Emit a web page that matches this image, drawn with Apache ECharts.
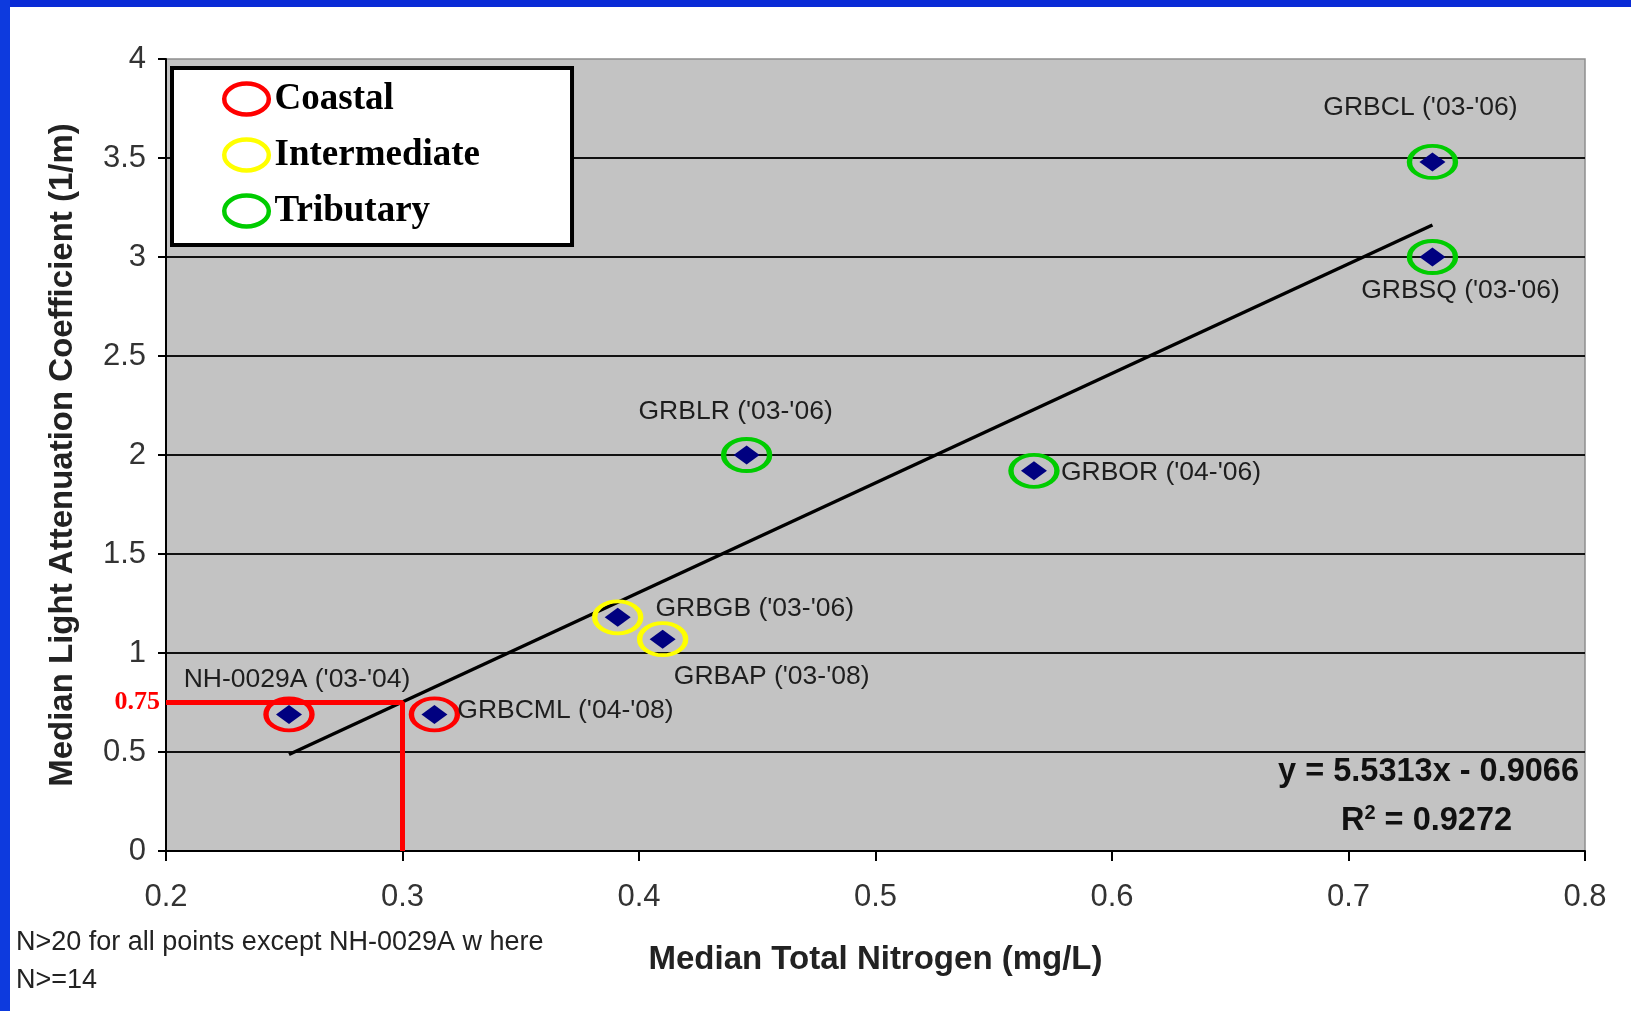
<!DOCTYPE html>
<html>
<head>
<meta charset="utf-8">
<title>Median Light Attenuation vs Median Total Nitrogen</title>
<script src="https://cdn.jsdelivr.net/npm/echarts@6/dist/echarts.min.js"></script>
<style>
  html, body { margin: 0; padding: 0; background: #ffffff; }
  #chart { width: 1631px; height: 1011px; }
</style>
</head>
<body>
<div id="chart"></div>
<script>
// Station names with sampling years
const sites = [
  "NH-0029A ('03-'04)",
  "GRBCML ('04-'08)",
  "GRBGB ('03-'06)",
  "GRBAP ('03-'08)",
  "GRBLR ('03-'06)",
  "GRBOR ('04-'06)",
  "GRBCL ('03-'06)",
  "GRBSQ ('03-'06)"
];
// Median total nitrogen (mg/L)
const nitrogen = [0.252, 0.3135, 0.391, 0.41, 0.4455, 0.567, 0.7355, 0.7355];
// Median light attenuation coefficient (1/m)
const attenuation = [0.69, 0.69, 1.18, 1.07, 2.0, 1.92, 3.48, 3.0];
// Station type
const stationType = ['Coastal', 'Coastal', 'Intermediate', 'Intermediate',
                     'Tributary', 'Tributary', 'Tributary', 'Tributary'];
const typeNames = ['Coastal', 'Intermediate', 'Tributary'];

// Linear fit
const slope = 5.5313;
const intercept = -0.9066;
const rSquared = 0.9272;

// Guide at the 0.75 attenuation target
const targetAttenuation = 0.75;
const targetNitrogen = 0.3;

// Axis ticks
const xTicks = [0.2, 0.3, 0.4, 0.5, 0.6, 0.7, 0.8];
const yTicks = [0, 0.5, 1, 1.5, 2, 2.5, 3, 3.5, 4];

const noteLines = ['N>20 for all points except NH-0029A w here', 'N>=14'];

// ---- styling ----
const typeColors = { Coastal: '#ff0000', Intermediate: '#ffff00', Tributary: '#00cc00' };
const ellipse = 'path://M0,16A23,16,0,1,1,46,16A23,16,0,1,1,0,16Z';
const labelOffsets = {
  "NH-0029A ('03-'04)": [8, -35],
  "GRBCML ('04-'08)": [131, -4],
  "GRBGB ('03-'06)": [137, -9],
  "GRBAP ('03-'08)": [109, 38],
  "GRBLR ('03-'06)": [-11, -43],
  "GRBOR ('04-'06)": [127, 2],
  "GRBCL ('03-'06)": [-12, -54],
  "GRBSQ ('03-'06)": [28, 34]
};
const SANS = "'Liberation Sans', Arial, sans-serif";
const SERIF = "'Liberation Serif', 'Times New Roman', serif";

const chart = echarts.init(document.getElementById('chart'), null, { renderer: 'canvas' });

const ringSeries = typeNames.map(t => ({
  name: t,
  type: 'scatter',
  symbol: ellipse,
  symbolSize: [46, 32],
  itemStyle: { color: 'transparent', borderColor: typeColors[t], borderWidth: 4.5, opacity: 1 },
  emphasis: { disabled: true },
  z: 3,
  data: nitrogen.map((x, i) => stationType[i] === t ? [x, attenuation[i]] : null).filter(d => d)
}));

const xMin = Math.min(...nitrogen);
const xMax = Math.max(...nitrogen);

const option = {
  animation: false,
  backgroundColor: '#ffffff',
  grid: {
    left: 166, right: 46, top: 59, bottom: 160,
    show: true, backgroundColor: '#c3c3c3', borderColor: '#8e8e8e', borderWidth: 1.5
  },
  legend: {
    orient: 'vertical',
    left: 172, top: 68,
    backgroundColor: '#ffffff', borderColor: '#000000', borderWidth: 4,
    padding: [11, 92, 14, 50],
    itemWidth: 46, itemHeight: 31, itemGap: 16,
    selectedMode: false,
    textStyle: { fontFamily: SERIF, fontWeight: 'bold', fontSize: 37, color: '#000', lineHeight: 40 },
    data: typeNames.map(t => ({
      name: t, icon: ellipse,
      itemStyle: { color: 'transparent', borderColor: typeColors[t], borderWidth: 4.5 }
    }))
  },
  xAxis: {
    type: 'value',
    min: xTicks[0], max: xTicks[xTicks.length - 1], interval: 0.1,
    name: 'Median Total Nitrogen (mg/L)',
    nameLocation: 'middle', nameGap: 92,
    nameTextStyle: { fontFamily: SANS, fontWeight: 'bold', fontSize: 33, color: '#222' },
    axisLine: { show: true, lineStyle: { color: '#000', width: 2 } },
    axisTick: { show: true, length: 10, lineStyle: { color: '#000', width: 2 } },
    axisLabel: {
      margin: 31, fontFamily: SANS, fontSize: 31, color: '#333',
      formatter: v => xTicks.find(t => Math.abs(t - v) < 1e-9).toFixed(1)
    },
    splitLine: { show: false }
  },
  yAxis: {
    type: 'value',
    min: yTicks[0], max: yTicks[yTicks.length - 1], interval: 0.5,
    name: 'Median Light Attenuation Coefficient (1/m)',
    nameLocation: 'middle', nameGap: 87,
    nameTextStyle: { fontFamily: SANS, fontWeight: 'bold', fontSize: 33, color: '#222' },
    axisLine: { show: true, lineStyle: { color: '#000', width: 2 } },
    axisTick: { show: true, length: 8, lineStyle: { color: '#000', width: 2 } },
    axisLabel: { margin: 20, fontFamily: SANS, fontSize: 31, color: '#333',
      formatter: v => String(yTicks.find(t => Math.abs(t - v) < 1e-9)) },
    splitLine: { show: true, showMaxLine: false, lineStyle: { color: '#111', width: 2 } }
  },
  graphic: [
    { type: 'rect', shape: { x: 0, y: 0, width: 1631, height: 7 }, style: { fill: '#0a2bd6' }, z: 100 },
    { type: 'rect', shape: { x: 0, y: 0, width: 10, height: 1011 }, style: { fill: '#0d3ade' }, z: 100 },
    {
      type: 'text', right: 52, top: 756, z: 50,
      style: {
        text: 'y = ' + slope.toFixed(4) + 'x - ' + Math.abs(intercept).toFixed(4),
        font: "bold 32.5px 'Liberation Sans', Arial, sans-serif", fill: '#111'
      }
    },
    {
      type: 'text', left: 1341, top: 803, z: 50,
      style: {
        text: '{b|R}{s|2}{b| = ' + rSquared.toFixed(4) + '}',
        rich: {
          b: { font: "bold 32.5px 'Liberation Sans', Arial, sans-serif", fill: '#111', verticalAlign: 'bottom' },
          s: { font: "bold 20px 'Liberation Sans', Arial, sans-serif", fill: '#111', verticalAlign: 'top', padding: [0, 0, 15, 0] }
        }
      }
    },
    {
      type: 'text', left: 16, top: 929, z: 50,
      style: { text: noteLines[0], font: "27px 'Liberation Sans', Arial, sans-serif", fill: '#222' }
    },
    {
      type: 'text', left: 16, top: 967, z: 50,
      style: { text: noteLines[1], font: "27px 'Liberation Sans', Arial, sans-serif", fill: '#222' }
    }
  ],
  series: [
    {
      name: 'Linear fit',
      type: 'line',
      symbol: 'none',
      lineStyle: { color: '#000', width: 3.5 },
      z: 2,
      silent: true,
      data: [[xMin, slope * xMin + intercept], [xMax, slope * xMax + intercept]]
    },
    {
      name: 'Target',
      type: 'line',
      symbol: 'circle', symbolSize: 0.1, showSymbol: true,
      itemStyle: { color: '#ff0000' },
      lineStyle: { color: '#ff0000', width: 5 },
      z: 2,
      silent: true,
      data: [
        {
          value: [xTicks[0], targetAttenuation],
          label: {
            show: true, position: 'left', distance: 6,
            formatter: targetAttenuation.toFixed(2),
            fontFamily: SERIF, fontWeight: 'bold', fontSize: 26, color: '#ff0000'
          }
        },
        [targetNitrogen, targetAttenuation],
        [targetNitrogen, 0]
      ]
    },
    ...ringSeries,
    {
      name: 'Stations',
      type: 'scatter',
      symbol: 'diamond',
      symbolSize: [26, 19],
      itemStyle: { color: '#000080', opacity: 1 },
      z: 4,
      label: {
        show: true, position: 'inside',
        fontFamily: SANS, fontSize: 26.5, color: '#1e1e1e',
        formatter: p => sites[p.dataIndex]
      },
      data: sites.map((s, i) => ({
        value: [nitrogen[i], attenuation[i]],
        label: { offset: labelOffsets[s] }
      }))
    }
  ]
};

chart.setOption(option);
</script>
</body>
</html>
